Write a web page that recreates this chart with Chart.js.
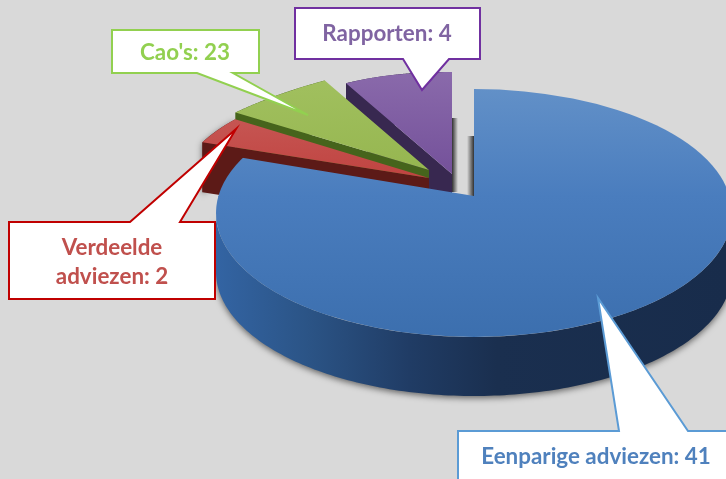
<!DOCTYPE html>
<html>
<head>
<meta charset="utf-8">
<title>Adviezen</title>
<script src="https://cdn.jsdelivr.net/npm/chart.js@4/dist/chart.umd.min.js"></script>
<style>
    html, body { margin: 0; padding: 0; background: #d9d9d9; overflow: hidden; }
    canvas { display: block; }
</style>
</head>
<body>
<canvas id="pieChart" width="726" height="479"></canvas>
<script>
const categories = ["Eenparige adviezen", "Verdeelde adviezen", "Cao's", "Rapporten"];
// values printed in the callouts
const labelValues = [41, 2, 23, 4];
// slice sizes (the Cao's slice is drawn far smaller than its label says)
const sliceValues = [41, 2, 3, 4];

const topColors = [
    ["#6391c8", "#4a7dbe", "#3a6dac"],
    ["#c9605d", "#c04340", "#b53330"],
    ["#a2c160", "#96b650", "#8cad45"],
    ["#8a6aab", "#74519a", "#63408a"]
];
const wallColors = ["#1a2f4f", "#5c1a17", "#46641c", "#382850"];

// slice tilt: apex on screen, then [a, b, c, d] of the projection of the unit circle
// the big slice is seen in perspective, so its rim is a separate ellipse (cx, cy, rx, ry)
const frames = [
    { apex: [474, 196], upper: [320, 0, 0, 112], lower: [320, 0, 0, 160], depth: 59, rim: [474, 213, 258, 124] },
    { apex: [429, 178], upper: [249, 3, -9, 103], lower: [249, 3, -9, 103], depth: 50 },
    { apex: [429, 170], upper: [280, -35, -18, 112], lower: [280, -35, -18, 112], depth: 50 },
    { apex: [452, 174], upper: [220, 0, 3, 102], lower: [220, 0, 3, 102], depth: 50 }
];

// callout boxes: box x, y, w, h, pointer base x1, x2, pointer tip
const callouts = [
    { box: [458, 431, 290, 70], base: [619, 688], tip: [598, 298], border: "#5b9bd5", text: "#4f81bd", center: 596, lines: 1, textY: 457 },
    { box: [9, 222, 206, 77], base: [130, 180], tip: [236, 129], border: "#c00000", text: "#c0504d", center: 112, lines: 2, textY: 248 },
    { box: [112, 30, 147, 43], base: [197, 233], tip: [308, 115], border: "#92d050", text: "#92d050", center: 185, lines: 1, textY: 53 },
    { box: [295, 8, 185, 51], base: [403, 449], tip: [422, 90], border: "#7030a0", text: "#8064a2", center: 387, lines: 1, textY: 34 }
];

function project(index, angle) {
    const f = frames[index];
    const ux = Math.cos(angle);
    const uy = Math.sin(angle);
    const m = uy < 0 ? f.upper : f.lower;
    return { x: f.apex[0] + m[0] * ux + m[1] * uy, y: f.apex[1] + m[2] * ux + m[3] * uy };
}

function rimPoints(index, arc) {
    const rim = frames[index].rim;
    const pts = [];
    for (let i = 0; i <= 160; i++) {
        if (rim) {
            // only the front half of the ellipse shows a wall
            const t = Math.PI * i / 160;
            pts.push({ x: rim[0] + rim[2] * Math.cos(t), y: rim[1] + rim[3] * Math.sin(t) });
        } else {
            const t = arc.startAngle + (arc.endAngle - arc.startAngle) * i / 160;
            pts.push(project(index, t));
        }
    }
    return pts;
}

function wallFill(ctx, index) {
    if (index !== 0) return wallColors[index];
    const g = ctx.createLinearGradient(216, 0, 726, 0);
    g.addColorStop(0, "#3364a3");
    g.addColorStop(0.18, "#2b5486");
    g.addColorStop(0.38, "#203c65");
    g.addColorStop(0.55, "#1a2f4f");
    g.addColorStop(1, "#182c4b");
    return g;
}

function drawWalls(ctx, arc, index) {
    const depth = frames[index].depth;
    const apex = frames[index].apex;
    const pts = rimPoints(index, arc);

    ctx.save();
    if (index === 0 || index === 1) {
        ctx.shadowColor = "rgba(0,0,0,0.55)";
        ctx.shadowBlur = 6;
        ctx.shadowOffsetY = 2;
    }
    ctx.fillStyle = wallFill(ctx, index);
    ctx.beginPath();
    ctx.moveTo(pts[0].x, pts[0].y);
    pts.forEach(p => ctx.lineTo(p.x, p.y));
    for (let i = pts.length - 1; i >= 0; i--) {
        ctx.lineTo(pts[i].x, pts[i].y + depth);
    }
    ctx.closePath();
    ctx.fill();
    ctx.restore();

    // cut face running from the rim to the centre
    if (index !== 0) {
        ctx.fillStyle = wallColors[index];
        ctx.beginPath();
        ctx.moveTo(pts[0].x, pts[0].y);
        ctx.lineTo(apex[0], apex[1]);
        ctx.lineTo(apex[0], apex[1] + depth);
        ctx.lineTo(pts[0].x, pts[0].y + depth);
        ctx.closePath();
        ctx.fill();
    }
}

function drawTop(ctx, arc, index) {
    const f = frames[index];
    const R = arc.outerRadius;
    const half = (m, top) => {
        ctx.save();
        if (f.rim) {
            ctx.beginPath();
            ctx.ellipse(f.rim[0], f.rim[1], f.rim[2], f.rim[3], 0, 0, Math.PI * 2);
            ctx.clip();
        }
        ctx.translate(f.apex[0], f.apex[1]);
        ctx.transform(m[0] / R, m[2] / R, m[1] / R, m[3] / R, 0, 0);
        ctx.translate(-arc.x, -arc.y);
        ctx.beginPath();
        // upper half runs a little over the seam so no line shows
        if (top) ctx.rect(arc.x - R - 5, arc.y - R - 5, 2 * R + 10, R + 7);
        else ctx.rect(arc.x - R - 5, arc.y, 2 * R + 10, R + 5);
        ctx.clip();
        arc.draw(ctx);
        ctx.restore();
    };
    half(f.lower, false);
    half(f.upper, true);
}

function edgeShadow(ctx, x, y, w, h, fromDark) {
    const g = ctx.createLinearGradient(x, 0, x + w, 0);
    g.addColorStop(0, fromDark ? "rgba(40,40,40,0.95)" : "rgba(40,40,40,0)");
    g.addColorStop(1, fromDark ? "rgba(40,40,40,0)" : "rgba(40,40,40,0.95)");
    ctx.fillStyle = g;
    ctx.fillRect(x, y, w, h);
}

const tiltedPie = {
    id: "tiltedPie",
    beforeDatasetsDraw(chart) {
        const ctx = chart.ctx;
        const arcs = chart.getDatasetMeta(0).data;
        // back to front
        [3, 2, 1, 0].forEach(i => {
            if (i === 3) edgeShadow(ctx, frames[3].apex[0], frames[3].apex[1] - 56, 6, 74, true);
            if (i === 0) edgeShadow(ctx, frames[0].apex[0] - 7, frames[0].apex[1] - 60, 7, 60, false);
            drawWalls(ctx, arcs[i], i);
            drawTop(ctx, arcs[i], i);
        });
        return false;
    },
    afterDraw(chart) {
        const ctx = chart.ctx;
        callouts.forEach((c, i) => {
            const [x, y, w, h] = c.box;
            ctx.save();
            ctx.fillStyle = "#ffffff";
            ctx.strokeStyle = c.border;
            ctx.lineWidth = 2;
            ctx.lineJoin = "miter";
            ctx.beginPath();
            ctx.moveTo(x, y);
            // pointer sits on the top edge or the bottom edge of the box
            if (c.tip[1] < y) {
                ctx.lineTo(c.base[0], y);
                ctx.lineTo(c.tip[0], c.tip[1]);
                ctx.lineTo(c.base[1], y);
                ctx.lineTo(x + w, y);
                ctx.lineTo(x + w, y + h);
                ctx.lineTo(x, y + h);
            } else {
                ctx.lineTo(x + w, y);
                ctx.lineTo(x + w, y + h);
                ctx.lineTo(c.base[1], y + h);
                ctx.lineTo(c.tip[0], c.tip[1]);
                ctx.lineTo(c.base[0], y + h);
                ctx.lineTo(x, y + h);
            }
            ctx.closePath();
            ctx.fill();
            ctx.stroke();

            ctx.fillStyle = c.text;
            ctx.font = "bold 22.4px Lato";
            ctx.textAlign = "center";
            ctx.textBaseline = "middle";
            if (c.lines === 2) {
                const parts = categories[i].split(" ");
                ctx.fillText(parts[0], c.center, c.textY);
                ctx.fillText(parts[1] + ": " + labelValues[i], c.center, c.textY + 29);
            } else {
                ctx.fillText(categories[i] + ": " + labelValues[i], c.center, c.textY);
            }
            ctx.restore();
        });
    }
};

function faceGradient(context) {
    const chart = context.chart;
    const area = chart.chartArea;
    const colors = topColors[context.dataIndex];
    if (!area) return colors[1];
    const g = chart.ctx.createLinearGradient(0, area.top, 0, area.bottom);
    g.addColorStop(0, colors[0]);
    g.addColorStop(0.5, colors[1]);
    g.addColorStop(1, colors[2]);
    return g;
}

new Chart(document.getElementById("pieChart").getContext("2d"), {
    type: "pie",
    data: {
        labels: categories,
        datasets: [{
            data: sliceValues,
            backgroundColor: faceGradient,
            borderWidth: 0
        }]
    },
    options: {
        responsive: false,
        animation: false,
        events: [],
        plugins: {
            legend: { display: false },
            tooltip: { enabled: false }
        }
    },
    plugins: [tiltedPie]
});
</script>
</body>
</html>
